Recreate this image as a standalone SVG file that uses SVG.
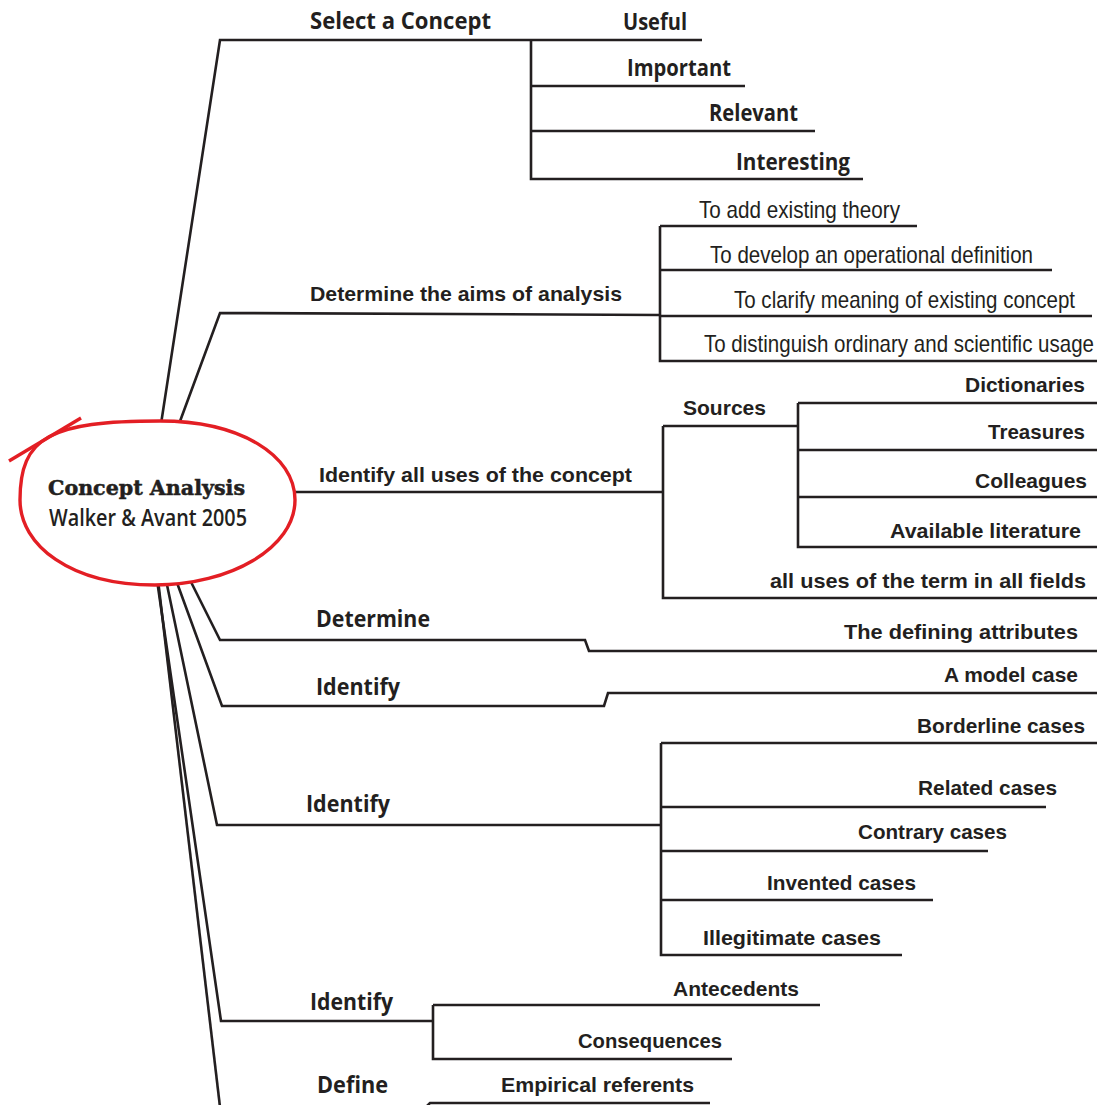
<svg xmlns="http://www.w3.org/2000/svg" width="1097" height="1105" viewBox="0 0 1097 1105">
<style>
.c{fill:none;stroke:#231f20;stroke-width:2.6;stroke-linejoin:miter}
.m{font-family:"Open Sans","Noto Sans",sans-serif;font-weight:700;font-size:24px;fill:#231f20}
.h{font-family:"Liberation Sans Narrow","Liberation Sans",sans-serif;font-weight:700;font-size:21px;fill:#231f20}
.l{font-family:"Liberation Sans Narrow","Liberation Sans",sans-serif;font-weight:400;font-size:24px;fill:#231f20}
</style>
<rect width="1097" height="1105" fill="#fff"/>
<g id="connectors" class="c">
<path d="M161,424 L220,40 H702"/>
<path d="M531,40 V179 H863 M531,86 H745 M531,131 H815"/>
<path d="M179,424 L220,313 L660,315"/>
<path d="M660,226 V361 H1097 M660,226 H917 M660,270 H1052 M660,316 H1092"/>
<path d="M290,492 H663"/>
<path d="M663,426 V598 H1097 M663,426 H798"/>
<path d="M798,403 V547 H1097 M798,403 H1097 M798,450 H1097 M798,497 H1097"/>
<path d="M190,580 L220,640 H585 L589,651 H1097"/>
<path d="M176,580 L222,706 H604 L608,693 H1097"/>
<path d="M166,580 L217,825 H661"/>
<path d="M661,743 V955 H902 M661,743 H1097 M661,807 H1046 M661,851 H988 M661,900 H933"/>
<path d="M157,580 L221,1021 H433"/>
<path d="M433,1005 V1059 H732 M433,1005 H820"/>
<path d="M158,580 L220,1107"/>
<path d="M425,1108 L430,1103 H710"/>
</g>
<g id="center">
<path d="M20,500 C20,437 50,421 160,421 C240,421 295,455 295,500 C295,548 230,585 155,585 C70,585 20,545 20,500 Z" fill="#fff" stroke="#e31e24" stroke-width="3.4"/>
<line x1="9" y1="461" x2="81" y2="418" stroke="#e31e24" stroke-width="3.4" stroke-linecap="butt"/>
<text x="48" y="495" font-family="'DejaVu Serif','Liberation Serif',serif" font-weight="700" font-size="20" fill="#231f20" stroke="#231f20" stroke-width="0.5" textLength="197" lengthAdjust="spacingAndGlyphs">Concept Analysis</text>
<text x="49" y="526" font-family="'Open Sans','Noto Sans',sans-serif" font-weight="600" font-size="23" fill="#231f20" textLength="198" lengthAdjust="spacingAndGlyphs">Walker &amp; Avant 2005</text>
</g>
<g id="n-select"><text class="m" x="310" y="29" textLength="181" lengthAdjust="spacingAndGlyphs">Select a Concept</text></g>
<g id="n-useful"><text class="m" x="623" y="30" textLength="64" lengthAdjust="spacingAndGlyphs">Useful</text></g>
<g id="n-important"><text class="m" x="627" y="76" textLength="104" lengthAdjust="spacingAndGlyphs">Important</text></g>
<g id="n-relevant"><text class="m" x="709" y="121" textLength="89" lengthAdjust="spacingAndGlyphs">Relevant</text></g>
<g id="n-interesting"><text class="m" x="736" y="170" textLength="114" lengthAdjust="spacingAndGlyphs">Interesting</text></g>
<g id="n-aims"><text class="h" x="310" y="301" font-size="22" textLength="312" lengthAdjust="spacingAndGlyphs">Determine the aims of analysis</text></g>
<g id="n-aim1"><text class="l" x="699" y="218" textLength="201" lengthAdjust="spacingAndGlyphs">To add existing theory</text></g>
<g id="n-aim2"><text class="l" x="710" y="263" textLength="323" lengthAdjust="spacingAndGlyphs">To develop an operational definition</text></g>
<g id="n-aim3"><text class="l" x="734" y="308" textLength="341" lengthAdjust="spacingAndGlyphs">To clarify meaning of existing concept</text></g>
<g id="n-aim4"><text class="l" x="704" y="352" textLength="390" lengthAdjust="spacingAndGlyphs">To distinguish ordinary and scientific usage</text></g>
<g id="n-uses"><text class="h" x="319" y="482" font-size="22" textLength="313" lengthAdjust="spacingAndGlyphs">Identify all uses of the concept</text></g>
<g id="n-sources"><text class="h" x="683" y="415" textLength="83" lengthAdjust="spacingAndGlyphs">Sources</text></g>
<g id="n-dict"><text class="h" x="965" y="392" textLength="120" lengthAdjust="spacingAndGlyphs">Dictionaries</text></g>
<g id="n-treas"><text class="h" x="988" y="439" textLength="97" lengthAdjust="spacingAndGlyphs">Treasures</text></g>
<g id="n-coll"><text class="h" x="975" y="488" textLength="112" lengthAdjust="spacingAndGlyphs">Colleagues</text></g>
<g id="n-lit"><text class="h" x="890" y="538" textLength="191" lengthAdjust="spacingAndGlyphs">Available literature</text></g>
<g id="n-allfields"><text class="h" x="770" y="588" textLength="316" lengthAdjust="spacingAndGlyphs">all uses of the term in all fields</text></g>
<g id="n-determine"><text class="m" x="316" y="627" font-size="25" textLength="114" lengthAdjust="spacingAndGlyphs">Determine</text></g>
<g id="n-attr"><text class="h" x="844" y="639" textLength="234" lengthAdjust="spacingAndGlyphs">The defining attributes</text></g>
<g id="n-identify1"><text class="m" x="316" y="695" font-size="25" textLength="84" lengthAdjust="spacingAndGlyphs">Identify</text></g>
<g id="n-model"><text class="h" x="944" y="682" textLength="134" lengthAdjust="spacingAndGlyphs">A model case</text></g>
<g id="n-identify2"><text class="m" x="306" y="812" font-size="25" textLength="84" lengthAdjust="spacingAndGlyphs">Identify</text></g>
<g id="n-border"><text class="h" x="917" y="733" textLength="168" lengthAdjust="spacingAndGlyphs">Borderline cases</text></g>
<g id="n-related"><text class="h" x="918" y="795" textLength="139" lengthAdjust="spacingAndGlyphs">Related cases</text></g>
<g id="n-contrary"><text class="h" x="858" y="839" textLength="149" lengthAdjust="spacingAndGlyphs">Contrary cases</text></g>
<g id="n-invented"><text class="h" x="767" y="890" textLength="149" lengthAdjust="spacingAndGlyphs">Invented cases</text></g>
<g id="n-illeg"><text class="h" x="703" y="945" textLength="178" lengthAdjust="spacingAndGlyphs">Illegitimate cases</text></g>
<g id="n-identify3"><text class="m" x="310" y="1010" font-size="25" textLength="83" lengthAdjust="spacingAndGlyphs">Identify</text></g>
<g id="n-ante"><text class="h" x="673" y="996" textLength="126" lengthAdjust="spacingAndGlyphs">Antecedents</text></g>
<g id="n-cons"><text class="h" x="578" y="1048" textLength="144" lengthAdjust="spacingAndGlyphs">Consequences</text></g>
<g id="n-define"><text class="m" x="317" y="1093" font-size="25" textLength="71" lengthAdjust="spacingAndGlyphs">Define</text></g>
<g id="n-empirical"><text class="h" x="501" y="1092" textLength="193" lengthAdjust="spacingAndGlyphs">Empirical referents</text></g>
</svg>
